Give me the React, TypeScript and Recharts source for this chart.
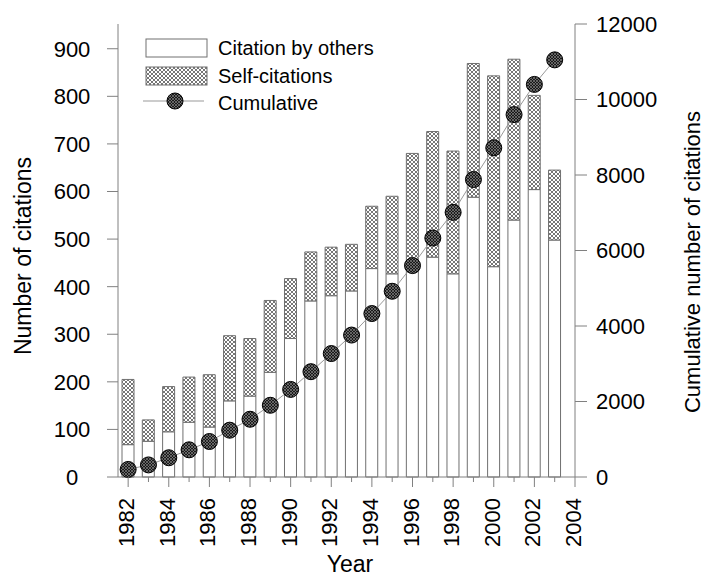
import React from 'react';
import { ComposedChart, Bar, Line, XAxis, YAxis, Legend } from 'recharts';

const years = [1982, 1983, 1984, 1985, 1986, 1987, 1988, 1989, 1990, 1991, 1992, 1993, 1994, 1995, 1996, 1997, 1998, 1999, 2000, 2001, 2002, 2003];
const citationByOthers = [68, 75, 95, 115, 105, 160, 170, 220, 291, 370, 381, 391, 438, 427, 440, 462, 427, 588, 442, 540, 604, 498];
const selfCitations = [137, 45, 95, 95, 110, 137, 121, 151, 126, 103, 102, 98, 131, 163, 240, 264, 258, 281, 401, 338, 198, 147];
const cumulative = [200, 320, 510, 720, 940, 1240, 1530, 1900, 2320, 2790, 3270, 3760, 4330, 4920, 5600, 6330, 7010, 7880, 8720, 9600, 10400, 11050];

const yearTicks = [1982, 1983, 1984, 1985, 1986, 1987, 1988, 1989, 1990, 1991, 1992, 1993, 1994, 1995, 1996, 1997, 1998, 1999, 2000, 2001, 2002, 2003, 2004];
const countTicks = [0, 100, 200, 300, 400, 500, 600, 700, 800, 900];
const cumulativeTicks = [0, 2000, 4000, 6000, 8000, 10000, 12000];

const data = years.map((year, i) => ({
  year,
  others: citationByOthers[i],
  self: selfCitations[i],
  cumulative: cumulative[i],
}));

const font = '"Liberation Sans", Arial, sans-serif';
const axisGray = '#808080';
const barStroke = '#707070';

function Patterns() {
  return (
    <defs>
      <pattern id="barHatch" width="4" height="4" patternUnits="userSpaceOnUse">
        <rect width="4" height="4" fill="#fff" />
        <path d="M0,0L4,4M4,0L0,4" stroke="#666" strokeWidth="0.9" />
      </pattern>
      <pattern id="dotHatch" width="3" height="3" patternUnits="userSpaceOnUse">
        <rect width="3" height="3" fill="#1a1a1a" />
        <path d="M0,0L3,3M3,0L0,3" stroke="#909090" strokeWidth="0.6" />
      </pattern>
    </defs>
  );
}

function YearTick({ x, y, payload }: any) {
  const major = payload.value % 2 === 0;
  return (
    <g>
      <line x1={x} x2={x} y1={y} y2={y + (major ? 10 : 5)} stroke={axisGray} />
      {major && (
        <text
          transform={`translate(${x + 6},${y + 21}) rotate(-90)`}
          textAnchor="end"
          fontSize={22}
          fontFamily={font}
          fill="#000"
        >
          {payload.value}
        </text>
      )}
    </g>
  );
}

function CountTick({ y, payload }: any) {
  return (
    <text x={72} y={y} dy="0.36em" textAnchor="middle" fontSize={22} fontFamily={font} fill="#000">
      {payload.value}
    </text>
  );
}

function LegendBox() {
  return (
    <svg width={260} height={90} style={{ overflow: 'visible' }}>
      <Patterns />
      <rect x={6} y={9} width={61} height={18} fill="#fff" stroke={barStroke} />
      <text x={78} y={25} fontSize={20} fontFamily={font} fill="#000">Citation by others</text>
      <rect x={6} y={37} width={61} height={18} fill="url(#barHatch)" stroke={barStroke} />
      <text x={78} y={53} fontSize={20} fontFamily={font} fill="#000">Self-citations</text>
      <line x1={3} x2={64} y1={71} y2={71} stroke="#999" />
      <circle cx={35} cy={71} r={8} fill="url(#dotHatch)" stroke="#000" />
      <text x={78} y={80} fontSize={20} fontFamily={font} fill="#000">Cumulative</text>
    </svg>
  );
}

export default function App() {
  return (
    <div style={{ position: 'absolute', left: 0, top: 0, fontFamily: font }}>
      <ComposedChart width={706} height={577} data={data} margin={{ top: 24, right: 0, bottom: 0, left: 0 }}>
        <Patterns />
        <XAxis
          dataKey="year"
          type="number"
          domain={[1981.5, 2004]}
          ticks={yearTicks}
          interval={0}
          tick={<YearTick />}
          tickLine={false}
          tickSize={0}
          tickMargin={0}
          height={100}
          stroke={axisGray}
          label={{
            content: () => (
              <text x={350} y={572} textAnchor="middle" fontSize={23} fontFamily={font} fill="#000">
                Year
              </text>
            ),
          }}
        />
        <YAxis
          yAxisId="left"
          domain={[0, 952]}
          ticks={countTicks}
          interval={0}
          width={118}
          tickSize={11}
          tick={<CountTick />}
          stroke={axisGray}
          label={{
            content: () => (
              <text
                transform="translate(31,256) rotate(-90)"
                textAnchor="middle"
                fontSize={23}
                fontFamily={font}
                fill="#000"
              >
                Number of citations
              </text>
            ),
          }}
        />
        <YAxis
          yAxisId="right"
          orientation="right"
          domain={[0, 12000]}
          ticks={cumulativeTicks}
          interval={0}
          width={131}
          tickSize={12}
          tickMargin={9}
          tick={{ fontSize: 22, fill: '#000', fontFamily: font }}
          stroke={axisGray}
          label={{
            content: () => (
              <text
                transform="translate(700,262) rotate(-90)"
                textAnchor="middle"
                fontSize={22}
                fontFamily={font}
                fill="#000"
              >
                Cumulative number of citations
              </text>
            ),
          }}
        />
        <Legend
          layout="vertical"
          align="center"
          verticalAlign="middle"
          content={() => <LegendBox />}
          wrapperStyle={{ position: 'absolute', left: 140, top: 30, width: 260, height: 90 }}
        />
        <Bar yAxisId="left" dataKey="others" stackId="c" barSize={12} fill="#fff" stroke={barStroke} strokeWidth={1} isAnimationActive={false} />
        <Bar yAxisId="left" dataKey="self" stackId="c" barSize={12} fill="url(#barHatch)" stroke={barStroke} strokeWidth={1} isAnimationActive={false} />
        <Line
          yAxisId="right"
          dataKey="cumulative"
          stroke="#999"
          strokeWidth={1}
          dot={{ r: 8, fill: 'url(#dotHatch)', stroke: '#000', strokeWidth: 1 }}
          activeDot={false}
          isAnimationActive={false}
        />
      </ComposedChart>
    </div>
  );
}
